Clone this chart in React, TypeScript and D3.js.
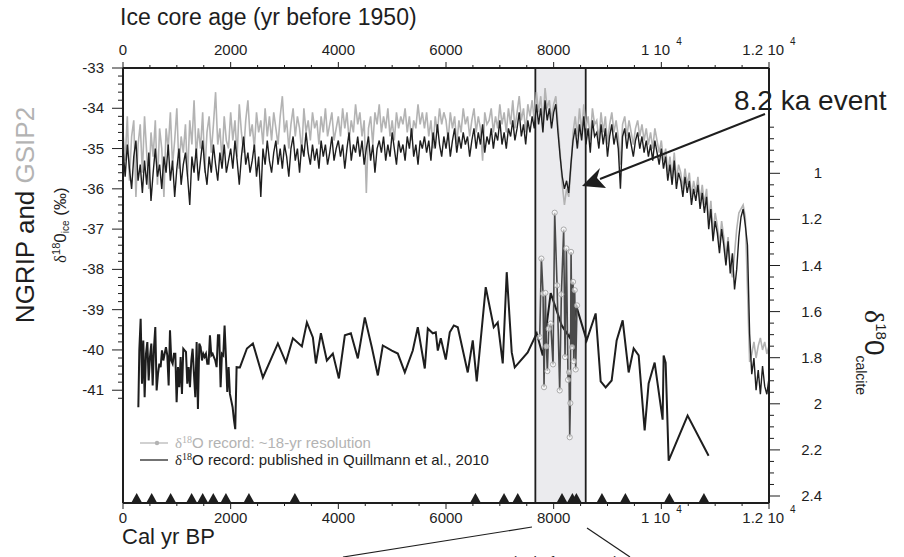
import React from "react";
import * as d3 from "d3";

const W = 904;
const H = 557;

// ice core records, one value every 40 yr from 0 to 12000 yr b1950
const iceStep = 40;
const ngrip = [
  -35.0, -35.7, -34.9, -35.5, -36.0, -35.2, -34.8, -35.8, -35.4, -36.1,
  -35.3, -35.9, -35.1, -36.3, -35.6, -35.0, -35.7, -35.4, -36.0, -35.2,
  -35.6, -34.9, -35.8, -35.3, -36.2, -35.5, -35.0, -35.9, -35.4, -35.1,
  -35.7, -36.4, -35.2, -35.6, -35.0, -35.8, -35.3, -34.8, -35.5, -35.9,
  -35.2, -35.6, -34.9, -35.4, -35.8, -35.1, -35.5, -34.9, -35.6, -35.3,
  -35.0, -35.5, -34.8, -35.3, -35.9, -35.2, -34.7, -35.4, -35.1, -35.6,
  -35.3, -34.9, -35.7, -35.2, -36.2, -35.0, -35.4, -34.8, -35.3, -35.6,
  -35.1, -34.8, -35.4, -35.0, -35.5, -34.9, -35.2, -35.7, -35.0, -34.7,
  -35.3, -35.0, -35.6, -34.9, -35.2, -34.6, -35.1, -35.4, -34.9, -35.3,
  -35.0, -35.5, -34.8, -35.2, -34.9, -35.4, -35.1, -34.7, -35.3, -35.0,
  -34.8, -35.2, -34.9, -35.5, -35.0, -34.6, -35.3, -34.9, -35.1, -34.7,
  -35.2, -34.8, -35.4, -35.0, -34.7, -35.3, -34.9, -35.6, -35.0, -34.8,
  -35.1, -34.7, -35.3, -34.9, -35.2, -34.6, -35.0, -35.4, -34.8, -35.1,
  -34.9, -35.3, -34.7, -35.0, -34.5, -35.2, -34.9, -35.4, -34.8, -35.0,
  -34.7, -35.1, -34.8, -35.3, -34.6, -35.0, -34.4, -34.9, -35.2, -34.7,
  -35.0, -34.6, -35.2, -34.8, -34.5, -35.1, -34.7, -35.0, -34.6, -34.9,
  -34.7, -35.2, -34.8, -34.5, -35.0, -34.6, -34.9, -34.4, -35.1, -34.7,
  -34.9, -34.5, -35.0, -34.6, -34.8, -34.3, -34.9, -34.6, -35.0, -34.5,
  -34.7, -34.3, -34.8, -34.5, -34.1, -34.7, -34.4, -34.9, -34.3, -34.6,
  -34.2, -34.5, -33.9, -34.4, -34.0, -34.6, -33.8, -34.3, -34.0, -34.5,
  -34.1, -33.9, -34.6, -35.2, -35.7, -36.0, -35.8, -36.1, -35.4, -34.8,
  -34.5, -35.0, -34.4, -34.8, -34.2, -34.9, -34.5, -35.1, -34.3, -34.7,
  -34.6, -35.0, -34.4, -34.9, -34.5, -35.2, -34.7, -34.4, -34.9, -34.6,
  -35.0, -36.0, -34.7, -34.5, -35.0, -34.6, -34.9, -35.2, -34.8, -34.6,
  -35.0, -34.7, -35.1, -34.8, -35.2, -34.9, -35.3, -34.8, -35.1, -35.4,
  -35.0, -35.5, -35.2, -35.8, -35.4, -35.9, -35.3, -36.0, -35.6, -35.8,
  -36.2, -35.7, -36.1, -35.8, -36.4, -36.0, -36.3, -35.9, -36.5, -36.1,
  -36.6, -36.2, -37.0, -36.5, -37.3, -36.8, -37.1, -37.6, -37.0, -37.4,
  -37.9, -37.3, -38.1, -37.6, -38.5, -38.0, -37.2, -36.7, -36.5, -36.9,
  -37.4, -39.6, -40.6, -40.2, -41.0, -40.5, -41.1, -40.4, -40.9, -41.1,
  -40.7,
];
const gisp2 = [
  -34.6, -35.3, -34.2, -35.8, -34.7, -34.3, -36.2, -34.9, -34.4, -35.6,
  -34.2, -35.1, -36.0, -34.6, -35.2, -34.3, -35.9, -34.5, -35.0, -36.2,
  -34.5, -35.0, -34.1, -35.4, -34.8, -34.0, -35.5, -34.7, -35.1, -34.4,
  -35.7, -34.3, -34.9, -33.8, -35.2, -34.5, -35.0, -34.1, -35.6, -34.6,
  -34.2, -35.1, -34.4, -33.6, -34.9, -34.5, -35.3, -34.2, -34.8, -35.0,
  -34.1, -34.8, -34.3, -35.2, -33.9, -34.6, -35.1, -34.3, -33.8, -34.7,
  -34.4, -35.0, -34.1, -34.6, -34.3, -34.9, -34.0, -34.7, -34.2, -34.8,
  -34.1, -34.5, -34.9, -34.2, -33.7, -34.6, -34.3, -35.0, -34.4, -34.0,
  -34.7, -34.2, -34.5, -35.1, -34.0, -34.6, -34.3, -34.8, -34.1, -34.5,
  -34.3, -34.9, -34.2, -34.6, -34.0, -34.7, -34.4, -34.1, -34.8, -34.5,
  -34.2, -34.7, -34.0, -34.5, -34.1, -34.8, -34.3, -34.6, -33.9, -34.4,
  -34.1, -34.7, -34.3, -36.1, -34.5, -34.2, -34.9, -34.1, -34.4, -33.9,
  -34.6, -34.2, -34.5, -34.0, -34.7, -34.3, -34.8, -34.1, -34.5, -34.2,
  -34.4, -34.0, -34.6, -34.2, -34.8, -34.3, -34.5, -33.9, -34.4, -34.1,
  -34.5, -34.1, -34.7, -34.3, -35.0, -34.2, -34.6, -34.0, -34.4, -34.1,
  -34.3, -34.8, -34.1, -34.5, -34.2, -34.9, -34.3, -34.6, -34.0, -34.4,
  -34.2, -34.7, -34.3, -34.0, -34.6, -34.2, -34.5, -35.3, -34.1, -34.4,
  -34.3, -34.0, -34.6, -34.2, -34.5, -33.9, -34.4, -34.1, -34.6, -34.0,
  -34.4, -33.8, -34.5, -34.1, -33.7, -34.3, -34.0, -34.6, -33.9, -34.2,
  -33.8, -34.3, -33.6, -34.1, -33.7, -34.4, -33.5, -34.0, -33.8, -34.3,
  -33.9, -33.7, -34.4, -35.1, -35.9, -36.4, -36.0, -36.2, -35.5, -34.6,
  -34.2, -34.7, -34.0, -34.6, -33.9, -34.5, -34.2, -34.8, -34.0, -34.4,
  -34.3, -34.8, -34.1, -34.6, -34.2, -34.9, -34.4, -34.1, -34.6, -34.3,
  -34.7, -35.4, -34.4, -34.2, -34.7, -34.3, -34.6, -34.9, -34.5, -34.3,
  -34.7, -34.4, -34.8, -34.5, -34.9, -34.6, -35.0, -34.5, -34.8, -35.1,
  -34.8, -35.3, -35.0, -35.6, -35.2, -35.7, -35.1, -35.8, -35.4, -35.6,
  -36.0, -35.5, -35.9, -35.6, -36.2, -35.8, -36.1, -35.7, -36.3, -35.9,
  -36.4, -36.0, -36.8, -36.3, -37.1, -36.6, -36.9, -37.4, -36.8, -37.2,
  -37.7, -37.2, -37.9, -38.2, -37.6, -37.0, -36.6, -36.5, -36.4, -36.7,
  -38.5, -40.3, -40.1, -39.8, -40.2, -39.9, -39.7, -40.0, -39.8, -40.1,
  -39.9,
];

// calcite d18O, Quillmann et al. 2010 [cal yr BP, permil]
const calcite: [number, number][] = [
  [285, 2.015], [303, 1.768], [328, 1.631], [353, 1.913], [377, 1.725], [402, 1.971],
  [427, 1.783], [452, 1.732], [477, 1.899], [501, 1.797], [526, 1.739], [551, 1.92],
  [576, 1.754], [600, 1.667], [625, 1.942], [650, 1.87], [675, 1.826], [699, 1.841],
  [724, 1.768], [749, 1.812], [774, 1.783], [798, 1.754], [823, 1.79], [848, 1.92],
  [873, 1.681], [897, 1.812], [922, 1.826], [947, 1.783], [972, 1.783], [996, 1.993],
  [1021, 1.841], [1046, 1.928], [1071, 1.797], [1095, 1.957], [1120, 1.761], [1145, 1.768],
  [1170, 1.775], [1194, 1.913], [1219, 1.841], [1244, 1.928], [1269, 1.812], [1293, 1.761],
  [1318, 1.87], [1343, 1.971], [1368, 1.732], [1392, 2.022], [1417, 1.739], [1442, 1.754],
  [1467, 1.812], [1491, 1.783], [1516, 1.797], [1541, 1.783], [1566, 1.826], [1590, 1.826],
  [1615, 1.703], [1640, 1.79], [1665, 1.783], [1689, 1.797], [1714, 1.812], [1739, 1.841],
  [1764, 1.703], [1788, 1.703], [1813, 1.928], [1838, 1.783], [1863, 1.79], [1887, 1.66],
  [1912, 1.797], [1937, 1.949], [1962, 1.841], [1986, 1.957], [2011, 1.986], [2036, 2.015],
  [2061, 2.07], [2085, 2.11], [2110, 1.841], [2172, 1.842], [2302, 1.76], [2413, 1.738],
  [2599, 1.886], [2877, 1.738], [3026, 1.82], [3156, 1.716], [3323, 1.751], [3416, 1.647],
  [3527, 1.712], [3583, 1.825], [3676, 1.694], [3787, 1.812], [3898, 1.782], [4010, 1.89],
  [4121, 1.703], [4233, 1.694], [4362, 1.803], [4492, 1.625], [4622, 1.755], [4734, 1.877],
  [4826, 1.747], [4994, 1.769], [5105, 1.782], [5235, 1.864], [5383, 1.769], [5476, 1.668],
  [5606, 1.847], [5662, 1.673], [5755, 1.694], [5810, 1.69], [5848, 1.769], [5903, 1.716],
  [5996, 1.808], [6070, 1.69], [6145, 1.66], [6219, 1.668], [6404, 1.864], [6497, 1.725],
  [6571, 1.903], [6738, 1.494], [6887, 1.668], [6961, 1.647], [7054, 1.825], [7128, 1.429],
  [7221, 1.777], [7277, 1.842], [7518, 1.777], [7685, 1.694], [7797, 1.79], [7945, 1.52],
  [8149, 1.66], [8298, 1.712], [8428, 1.582], [8613, 1.725], [8780, 1.608], [8873, 1.903],
  [8966, 1.929], [9077, 1.899], [9170, 1.725], [9282, 1.638], [9393, 1.864], [9486, 1.76],
  [9579, 1.79], [9690, 2.116], [9764, 1.912], [9876, 1.821], [10024, 2.069], [10043, 1.79],
  [10080, 1.821], [10136, 2.247], [10488, 2.051], [10878, 2.225],
];

// ~18-yr resolution record across the event
const hires: [number, number][] = [
  [7741, 1.71], [7772, 1.37], [7803, 1.522], [7821, 1.928], [7846, 1.519], [7865, 1.751],
  [7883, 1.858], [7908, 1.674], [7945, 1.652], [7988, 1.829], [8019, 1.171], [8063, 1.486],
  [8112, 1.942], [8143, 1.525], [8186, 1.244], [8211, 1.797], [8236, 1.326], [8267, 1.896],
  [8286, 1.863], [8298, 2.145], [8310, 1.997], [8323, 1.341], [8341, 1.754], [8360, 1.471],
  [8372, 1.815], [8391, 1.507], [8409, 1.851], [8434, 1.573],
];

// dated levels (triangles)
const datedAges = [254, 533, 885, 1275, 1480, 1677, 1912, 2339, 3193, 6547, 7078, 7333, 8155, 8348, 8422, 8897, 9332, 10149, 10791];

const eventSpan = [7660, 8595];
const xTicks = [0, 2000, 4000, 6000, 8000, 10000, 12000];
const xTickText = ["0", "2000", "4000", "6000", "8000", "1 10", "1.2 10"];
const xTickExp = ["", "", "", "", "", "4", "4"];
const iceTicks = [-33, -34, -35, -36, -37, -38, -39, -40, -41];
const calTicks = [1, 1.2, 1.4, 1.6, 1.8, 2, 2.2, 2.4];

const SANS = "'Liberation Sans', Arial, Helvetica, sans-serif";
const SERIF = "'Liberation Serif', 'Times New Roman', serif";
const DARK = "#1e1e1e";
const LIGHT = "#b3b3b3";

export default function App() {
  const L = 123, R = 769, T = 68, B = 503;
  const x = d3.scaleLinear().domain([0, 12000]).range([L, R]);
  const yIce = d3.scaleLinear().domain([-33, -43.8]).range([T, B]);
  const yCal = d3.scaleLinear().domain([1, 2.4]).range([173.3, 496]);

  const iceLine = d3
    .line<number>()
    .x((_, i) => x(i * iceStep))
    .y((d) => yIce(d));
  const calLine = d3
    .line<[number, number]>()
    .x((d) => x(d[0]))
    .y((d) => yCal(d[1]));

  const xMinor = d3.range(0, 12001, 500);
  const iceMinor = d3.range(0, 42).map((i) => -33 - i * 0.2);
  const calMinor = d3.range(0, 33).map((i) => 0.8 + i * 0.05);

  return (
    <div style={{ position: "fixed", left: 0, top: 0 }}>
      <svg width={W} height={H} style={{ display: "block", background: "#fff" }}>
        {/* 8.2 ka window */}
        <rect
          x={x(eventSpan[0])}
          y={T}
          width={x(eventSpan[1]) - x(eventSpan[0])}
          height={B - T}
          fill="#ebebee"
          stroke={DARK}
          strokeWidth={1.8}
        />

        <path d={iceLine(gisp2) || ""} fill="none" stroke={LIGHT} strokeWidth={1.6} />
        <path d={iceLine(ngrip) || ""} fill="none" stroke={DARK} strokeWidth={1.4} />

        <path d={calLine(calcite) || ""} fill="none" stroke={DARK} strokeWidth={2} />
        <path d={calLine(hires) || ""} fill="none" stroke="#4a4a4a" strokeWidth={1.6} />
        {hires.map((d, i) => (
          <circle key={i} cx={x(d[0])} cy={yCal(d[1])} r={2.6} fill="#fff" fillOpacity={0.6} stroke="#999" strokeWidth={0.8} />
        ))}

        {/* frame */}
        <g stroke={DARK} strokeWidth={2} fill="none">
          <line x1={L} x2={R} y1={T} y2={T} />
          <line x1={L} x2={R} y1={B} y2={B} />
          <line x1={L} x2={L} y1={T} y2={B} />
          <line x1={R} x2={R} y1={T} y2={B} />
        </g>

        {/* top & bottom ticks */}
        <g stroke={DARK} strokeWidth={1}>
          {xMinor.map((v) => {
            const major = v % 2000 === 0;
            return (
              <g key={v}>
                <line x1={x(v)} x2={x(v)} y1={T} y2={T - (major ? 6 : 3)} />
                <line x1={x(v)} x2={x(v)} y1={B} y2={B + (major ? 6 : 3)} />
              </g>
            );
          })}
        </g>
        <g fontFamily={SANS} fontSize={15} fill={DARK} textAnchor="middle">
          {xTicks.map((v, i) => (
            <g key={v}>
              <text x={x(v)} y={55}>
                {xTickText[i]}
                {xTickExp[i] && (
                  <tspan fontSize={10} dx={6} dy={-10}>
                    {xTickExp[i]}
                  </tspan>
                )}
              </text>
              <text x={x(v)} y={523}>
                {xTickText[i]}
                {xTickExp[i] && (
                  <tspan fontSize={10} dx={6} dy={-10}>
                    {xTickExp[i]}
                  </tspan>
                )}
              </text>
            </g>
          ))}
        </g>

        {/* left axis */}
        <g stroke={DARK} strokeWidth={1}>
          {iceMinor.map((v, i) => (
            <line key={i} x1={L} x2={L - (i % 5 === 0 ? 11 : 5)} y1={yIce(v)} y2={yIce(v)} />
          ))}
        </g>
        <g fontFamily={SANS} fontSize={15} fill={DARK} textAnchor="end">
          {iceTicks.map((v) => (
            <text key={v} x={104} y={yIce(v) + 5}>
              {v}
            </text>
          ))}
        </g>

        {/* right axis */}
        <g stroke={DARK} strokeWidth={1}>
          {calMinor.map((v, i) => (
            <line key={i} x1={R} x2={R + (i % 4 === 0 && v > 0.9 ? 11 : 5)} y1={yCal(v)} y2={yCal(v)} />
          ))}
        </g>
        <g fontFamily={SANS} fontSize={15} fill={DARK} textAnchor="end">
          {calTicks.map((v) => (
            <text key={v} x={822} y={yCal(v) + 5}>
              {String(v)}
            </text>
          ))}
        </g>

        {/* dated levels */}
        {datedAges.map((a, i) => (
          <path key={i} d={`M${x(a) - 5},${B - 1}L${x(a)},${B - 10}L${x(a) + 5},${B - 1}Z`} fill={DARK} />
        ))}

        {/* axis titles */}
        <text x={120} y={25} fontFamily={SANS} fontSize={23} fill={DARK}>
          Ice core age (yr before 1950)
        </text>
        <text x={122} y={544} fontFamily={SANS} fontSize={22} fill={DARK}>
          Cal yr BP
        </text>
        <text x={425} y={567} fontFamily={SANS} fontSize={15} fill={DARK}>
          Ice core age (yr before 1950)
        </text>
        <line x1={343} y1={557} x2={532} y2={527} stroke={DARK} strokeWidth={1.2} />
        <line x1={587} y1={528} x2={630} y2={557} stroke={DARK} strokeWidth={1.2} />

        <text transform="translate(34,215) rotate(-90)" textAnchor="middle" fontFamily={SANS} fontSize={26} fill={DARK}>
          NGRIP and <tspan fill={LIGHT}>GSIP2</tspan>
        </text>
        <text transform="translate(66,263) rotate(-90)" fontFamily={SANS} fontSize={17} fill={DARK}>
          <tspan fontFamily={SERIF}>δ</tspan>
          <tspan fontSize={11} dy={-6}>18</tspan>
          <tspan dy={6}>0</tspan>
          <tspan fontSize={10} dy={3}>ice</tspan>
          <tspan dy={-3}> (‰)</tspan>
        </text>
        <text transform="translate(865,310) rotate(90)" fontFamily={SANS} fontSize={28} fill={DARK}>
          <tspan fontFamily={SERIF}>δ</tspan>
          <tspan fontSize={15} dy={-11}>18</tspan>
          <tspan dy={11}>0</tspan>
          <tspan fontSize={14} dy={9}>calcite</tspan>
        </text>

        {/* event annotation */}
        <text x={734} y={110} fontFamily={SANS} fontSize={28} fill={DARK}>
          8.2 ka event
        </text>
        <line x1={765} y1={114} x2={600} y2={179} stroke={DARK} strokeWidth={2} />
        <path d="M582,186 L600,168 L597,178 L606,188 Z" fill={DARK} />

        {/* legend */}
        <line x1={140} x2={168} y1={443} y2={443} stroke={LIGHT} strokeWidth={1.2} />
        <circle cx={157} cy={443} r={2.2} fill={LIGHT} />
        <text x={175} y={448} fontFamily={SANS} fontSize={15} fill={LIGHT}>
          <tspan fontFamily={SERIF}>δ</tspan>
          <tspan fontFamily={SERIF} fontSize={10} dy={-5}>18</tspan>
          <tspan dy={5}>O record: ~18-yr resolution</tspan>
        </text>
        <line x1={140} x2={168} y1={460} y2={460} stroke="#444" strokeWidth={1.5} />
        <text x={175} y={465} fontFamily={SANS} fontSize={15} fill={DARK}>
          <tspan fontFamily={SERIF}>δ</tspan>
          <tspan fontFamily={SERIF} fontSize={10} dy={-5}>18</tspan>
          <tspan dy={5}>O record: published in Quillmann et al., 2010</tspan>
        </text>
      </svg>
    </div>
  );
}
